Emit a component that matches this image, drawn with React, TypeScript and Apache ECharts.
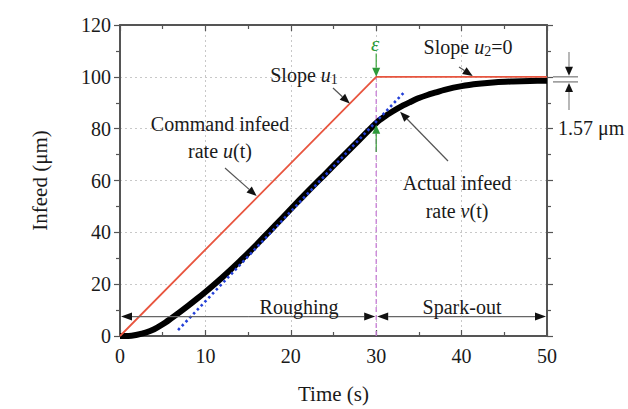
import React, { useEffect, useRef } from "react";
import * as echarts from "echarts";

// Command infeed u(t)
const tCmd = [0, 30, 50];
const uCmd = [0, 100, 100];
// Actual infeed v(t)
const tAct = [0, 1, 2, 3, 4, 5, 6, 7, 8, 9, 10, 11, 12, 13, 14, 15, 16, 17, 18, 20, 22, 24, 26, 28, 30, 31, 32, 33, 34, 35, 36, 37, 38, 40, 42, 44, 46, 48, 50];
const vAct = [0, 0, 0.5, 1.3, 2.6, 4.5, 6.8, 9.2, 11.7, 14.3, 17.0, 19.8, 22.7, 25.7, 28.8, 32.0, 35.3, 38.7, 42.1, 49, 55.8, 62.4, 69, 75.6, 82.2, 84.7, 86.8, 88.7, 90.3, 91.8, 93, 94, 95, 96.4, 97.3, 97.9, 98.2, 98.4, 98.5];
// Fitted slope line
const tFit = [6.8, 33.4];
const vFit = [2.3, 94.5];
// Phase boundary
const tSwitch = 30;
const xTicks = { min: 0, max: 50, step: 10 };
const yTicks = { min: 0, max: 120, step: 20 };

const FONT = "'Liberation Serif', 'DejaVu Serif', serif";
const AXC = "#555";
const TXT = "#1a1a1a";

export default function App() {
  const ref = useRef<HTMLDivElement>(null);
  useEffect(() => {
    const chart = echarts.init(ref.current!, null, { renderer: "svg" });
    const xCommon = {
      type: "value",
      min: xTicks.min,
      max: xTicks.max,
      interval: xTicks.step,
      axisLine: { show: true, onZero: false, lineStyle: { color: AXC, width: 2 } },
      minorTick: { show: true, splitNumber: 2, length: 4, lineStyle: { color: AXC, width: 1.2 } },
    };
    const yCommon = {
      type: "value",
      min: yTicks.min,
      max: yTicks.max,
      interval: yTicks.step,
      axisLine: { show: true, onZero: false, lineStyle: { color: AXC, width: 2 } },
      minorTick: { show: true, splitNumber: 2, length: 4, lineStyle: { color: AXC, width: 1.2 } },
    };
    chart.setOption({
      animation: false,
      backgroundColor: "#fff",
      grid: { left: 120, right: 81, top: 25, bottom: 66, containLabel: false },
      xAxis: [
        {
          ...xCommon,
          position: "bottom",
          name: "Time (s)",
          nameLocation: "middle",
          nameGap: 47,
          nameTextStyle: { fontFamily: FONT, fontSize: 21, color: TXT },
          axisTick: { show: true, inside: true, length: 6, lineStyle: { color: AXC, width: 1.2 } },
          axisLabel: { fontFamily: FONT, fontSize: 20, color: TXT, margin: 10 },
          splitLine: { show: true, lineStyle: { color: "#c8c8c8", type: [2, 3], width: 1 } },
        },
        {
          ...xCommon,
          position: "top",
          axisTick: { show: true, inside: true, length: 6, lineStyle: { color: AXC, width: 1.2 } },
          minorTick: { show: true, splitNumber: 2, length: 4, lineStyle: { color: AXC, width: 1.2 } },
          axisLabel: { show: false },
          splitLine: { show: false },
        },
      ],
      yAxis: [
        {
          ...yCommon,
          position: "left",
          name: "Infeed (μm)",
          nameLocation: "middle",
          nameGap: 70,
          nameTextStyle: { fontFamily: FONT, fontSize: 21, color: TXT },
          axisTick: { show: true, inside: false, length: 6, lineStyle: { color: AXC, width: 1.2 } },
          axisLabel: { fontFamily: FONT, fontSize: 20, color: TXT, margin: 9 },
          splitLine: { show: true, lineStyle: { color: "#c8c8c8", type: [2, 3], width: 1 } },
        },
        {
          ...yCommon,
          position: "right",
          axisTick: { show: true, inside: false, length: 6, lineStyle: { color: AXC, width: 1.2 } },
          axisLabel: { show: false },
          splitLine: { show: false },
        },
      ],
      series: [
        {
          type: "line",
          name: "switch",
          data: [[tSwitch, 0], [tSwitch, uCmd[1]]],
          symbol: "none",
          lineStyle: { color: "#c77dd6", width: 1.3, type: [5, 3] },
          z: 1,
        },
        {
          type: "line",
          name: "Actual infeed",
          data: tAct.map((t, i) => [t, vAct[i]]),
          symbol: "none",
          smooth: 0.3,
          lineStyle: { color: "#000", width: 6 },
          z: 2,
        },
        {
          type: "line",
          name: "Fit",
          data: tFit.map((t, i) => [t, vFit[i]]),
          symbol: "none",
          lineStyle: { color: "#2440d8", width: 2.6, type: [2.5, 3] },
          z: 3,
        },
        {
          type: "line",
          name: "Command infeed",
          data: tCmd.map((t, i) => [t, uCmd[i]]),
          symbol: "none",
          lineStyle: { color: "#e8553f", width: 1.8 },
          z: 4,
        },
      ],
    });

    const P = (t: number, v: number) =>
      chart.convertToPixel({ xAxisIndex: 0, yAxisIndex: 0 }, [t, v]) as number[];

    const arrow = (a: number[], b: number[], stroke: string, head: string, hl = 10, hw = 4, lw = 1.2): any[] => {
      const dx = b[0] - a[0];
      const dy = b[1] - a[1];
      const L = Math.hypot(dx, dy);
      const ux = dx / L;
      const uy = dy / L;
      const base = [b[0] - ux * hl, b[1] - uy * hl];
      const px = -uy;
      const py = ux;
      return [
        { type: "line", shape: { x1: a[0], y1: a[1], x2: base[0], y2: base[1] }, style: { stroke, lineWidth: lw }, z: 100 },
        {
          type: "polygon",
          shape: { points: [b, [base[0] + px * hw, base[1] + py * hw], [base[0] - px * hw, base[1] - py * hw]] },
          style: { fill: head },
          z: 101,
        },
      ];
    };

    const FS = 20;
    const txt = (x: number, y: number, text: string, extra: any = {}, rich: any = undefined) => ({
      type: "text",
      x,
      y,
      z: 102,
      style: {
        text,
        fontFamily: FONT,
        fontSize: FS,
        fill: TXT,
        align: "center",
        verticalAlign: "middle",
        rich,
        ...extra,
      },
    });

    const richStyles = {
      i: { fontFamily: FONT, fontSize: FS, fontStyle: "italic", fill: TXT },
      s: { fontFamily: FONT, fontSize: 14, fill: TXT, padding: [9, 0, 0, 0] },
      n: { fontFamily: FONT, fontSize: FS, fill: TXT },
    };

    const x0 = P(0, 0);
    const xR = P(50, 0);
    const pTop = P(tSwitch, uCmd[1]);
    const rough = P(0, 7.5);
    const roughEnd = P(tSwitch, 7.5);
    const sparkEnd = P(50, 7.5);
    const y100 = P(50, 100)[1];
    const yAct = P(50, 98.43)[1];

    const els: any[] = [];
    // Roughing / Spark-out span arrows
    const mid = (roughEnd[0] + rough[0]) / 2;
    els.push(...arrow([mid, rough[1]], [rough[0] + 1, rough[1]], "#666", "#111", 11, 4));
    els.push(...arrow([mid, rough[1]], [roughEnd[0] - 1, rough[1]], "#666", "#111", 11, 4));
    const mid2 = (roughEnd[0] + sparkEnd[0]) / 2;
    els.push(...arrow([mid2, rough[1]], [roughEnd[0] + 1, rough[1]], "#666", "#111", 11, 4));
    els.push(...arrow([mid2, rough[1]], [sparkEnd[0] - 1, rough[1]], "#666", "#111", 11, 4));
    els.push(txt(299, 307, "Roughing"));
    els.push(txt(462, 307, "Spark-out"));

    // epsilon arrows (green)
    els.push(...arrow([pTop[0], P(0, 109)[1]], [pTop[0], pTop[1]], "#3aa43a", "#2e9a3a", 9, 4));
    els.push(...arrow([pTop[0], P(0, 71)[1]], [pTop[0], P(0, 81.5)[1]], "#3aa43a", "#2e9a3a", 9, 4));
    els.push(txt(pTop[0] - 1, 44, "ε", { fill: "#2e9a3a", fontStyle: "italic", fontSize: 21 }));

    // Slope u1
    els.push(txt(304, 75, "{n|Slope }{i|u}{s|1}", {}, richStyles));
    els.push(...arrow([333, 88], P(26.9, 89.7), "#555", "#111", 10, 4));
    // Slope u2 = 0
    els.push(txt(468, 47, "{n|Slope }{i|u}{s|2}{n|=0}", {}, richStyles));
    els.push(...arrow([459, 67], P(41.3, 100.3), "#555", "#111", 10, 4));
    // Command infeed
    els.push(txt(220, 124, "Command infeed"));
    els.push(txt(220, 151, "{n|rate }{i|u}{n|(t)}", {}, richStyles));
    els.push(...arrow([225, 168], P(16.0, 54), "#555", "#111", 10, 4));
    // Actual infeed
    els.push(txt(457, 183, "Actual infeed"));
    els.push(txt(457, 211, "{n|rate }{i|v}{n|(t)}", {}, richStyles));
    els.push(...arrow([448, 161], P(32.8, 86.5), "#555", "#111", 10, 4));

    // 1.57 µm gap annotation
    const gx1 = xR[0] + 6;
    const gx2 = xR[0] + 31;
    const gc = gx1 + 16;
    els.push({ type: "line", shape: { x1: gx1, y1: y100, x2: gx2, y2: y100 }, style: { stroke: "#777", lineWidth: 1.2 }, z: 100 });
    els.push({ type: "line", shape: { x1: gx1, y1: yAct + 1, x2: gx2, y2: yAct + 1 }, style: { stroke: "#777", lineWidth: 1.2 }, z: 100 });
    els.push(...arrow([gc, 52], [gc, y100 - 1], "#888", "#111", 9, 4));
    els.push(...arrow([gc, 110], [gc, yAct + 2], "#888", "#111", 9, 4));
    els.push(txt(x0[0] + 438, 128, "1.57 μm", { align: "left" }));

    chart.setOption({ graphic: { elements: els } });

    return () => chart.dispose();
  }, []);
  return (
    <div
      ref={ref}
      style={{ position: "fixed", left: 0, top: 0, width: 628, height: 409, background: "#fff" }}
    />
  );
}
